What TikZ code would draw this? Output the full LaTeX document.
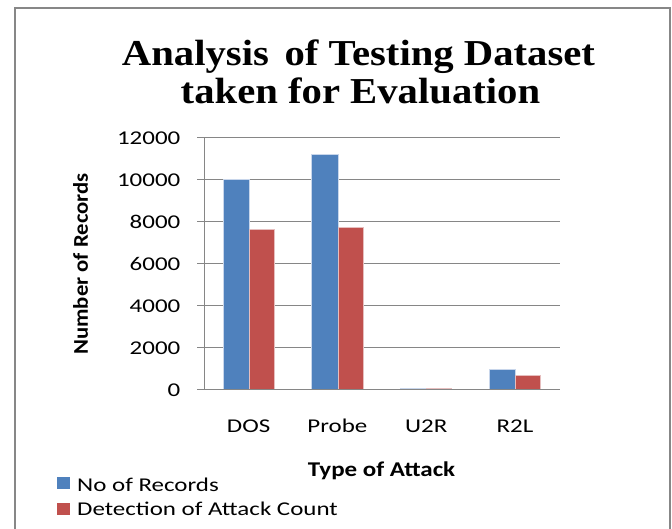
\documentclass[tikz,border=0pt]{standalone}
\usepackage{fontspec}
\setmainfont{Carlito}
\newfontfamily\chartfont[FakeStretch=1.28]{Carlito}
\newfontfamily\boldchartfont[FakeStretch=1.19]{Carlito}
\newfontfamily\axisfont[FakeStretch=1.08]{Carlito}
\newfontfamily\titlefont[FakeStretch=1.115]{Liberation Serif}
\definecolor{framegray}{RGB}{135,135,135}
\definecolor{gridgray}{RGB}{134,134,134}
\definecolor{barblue}{RGB}{79,129,189}
\definecolor{barred}{RGB}{192,80,77}
\definecolor{baredge}{RGB}{200,214,235}
\definecolor{rededge}{RGB}{230,190,190}
\begin{document}
\begin{tikzpicture}[x=1pt,y=-1pt,
  frameline/.style={draw=framegray,line width=2.5pt},
  gridline/.style={draw=gridgray,line width=1pt},
  bluebar/.style={fill=barblue,draw=baredge,line width=0.7pt},
  redbar/.style={fill=barred,draw=rededge,line width=0.7pt},
  ticklabel/.style={font=\chartfont\fontsize{19.5}{22}\selectfont,anchor=base east,inner sep=0pt},
  catlabel/.style={font=\chartfont\fontsize{19.5}{22}\selectfont,anchor=base,inner sep=0pt},
  legendtext/.style={font=\chartfont\fontsize{19.5}{22}\selectfont,anchor=base west,inner sep=0pt},
  titletext/.style={font=\titlefont\bfseries\fontsize{36.5}{40}\selectfont,anchor=base,inner sep=0pt}
]
\useasboundingbox (0,0) rectangle (672,529);
\fill[white] (0,0) rectangle (672,529);
% frame
\draw[frameline] (15,529) -- (15,8) -- (670,8) -- (670,529);
% title
\node[titletext] (t1) at (358.5,66) {Analysis\hspace{0.15em} of Testing Dataset};
\node[titletext] (t2) at (360.5,104) {taken for Evaluation};
% grid and ticks
\foreach \v/\lab in {0/0,2000/2000,4000/4000,6000/6000,8000/8000,10000/10000,12000/12000}{
  \pgfmathsetmacro{\yy}{389.3-\v*0.021}
  \draw[gridline] (197,\yy) -- (560,\yy);
  \node[ticklabel] (tick\v) at (180.5,\yy+7) {\lab};
}
\draw[gridline] (204.7,137.3) -- (204.7,389.3);
% bars
\foreach \i/\a/\b/\name in {0/10000/7600/DOS,1/11200/7700/Probe,2/60/60/U2R,3/950/680/R2L}{
  \pgfmathsetmacro{\c}{204.7+88.8*(\i+0.5)}
  \pgfmathsetmacro{\ya}{389.3-\a*0.021}
  \pgfmathsetmacro{\yb}{389.3-\b*0.021}
  \draw[bluebar] (\c-26.2,389.3) rectangle (\c,\ya);
  \draw[redbar] (\c,389.3) rectangle (\c+25,\yb);
  \node[catlabel] (cat\i) at (\c-0.5,432.7) {\name};
}
\draw[gridline] (197,389.3) -- (560,389.3);
% axis titles
\node[font=\axisfont\bfseries\fontsize{21}{24}\selectfont,rotate=90,inner sep=0pt] (ytitle) at (80.5,264) {Number of Records};
\node[font=\boldchartfont\bfseries\fontsize{21}{24}\selectfont,anchor=base,inner sep=0pt] (xtitle) at (381.5,476.7) {Type of Attack};
% legend
\fill[barblue] (57,477.3) rectangle (70,489);
\node[legendtext] (leg1) at (77,491) {No of Records};
\fill[barred] (57,503.3) rectangle (70,515);
\node[legendtext] (leg2) at (77,515) {Detection of Attack Count};
\end{tikzpicture}
\end{document}
